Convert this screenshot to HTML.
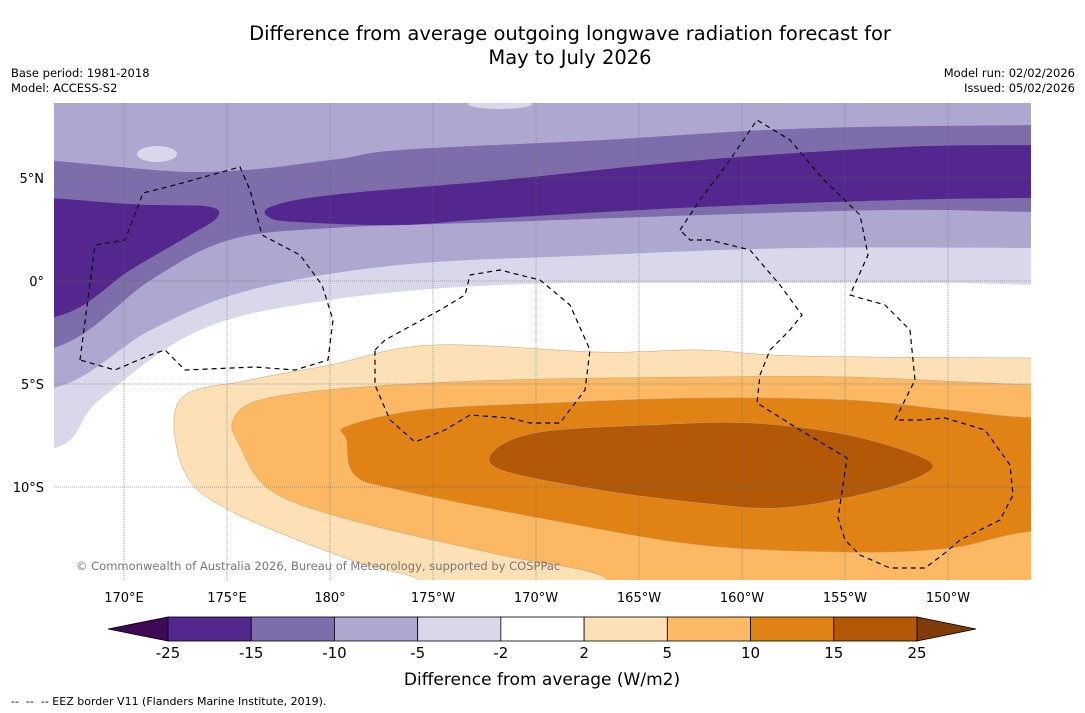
<!DOCTYPE html>
<html><head><meta charset="utf-8"><style>
body{margin:0;background:#fff;font-family:"Liberation Sans","DejaVu Sans",sans-serif;}
#wrap{position:relative;width:1085px;height:713px;overflow:hidden;background:#fff}
.t{position:absolute;white-space:nowrap;color:#000}
</style></head><body>
<div id="wrap">
<div class="t" style="left:0;width:1140px;top:22px;text-align:center;font-size:19.5px;line-height:24px;font-family:'DejaVu Sans',sans-serif">Difference from average outgoing longwave radiation forecast for<br>May to July 2026</div>
<div class="t" style="left:11px;top:66px;font-size:11.5px;line-height:15px;font-family:'DejaVu Sans',sans-serif">Base period: 1981-2018<br>Model: ACCESS-S2</div>
<div class="t" style="right:10px;top:66px;font-size:11.5px;line-height:15px;text-align:right;font-family:'DejaVu Sans',sans-serif">Model run: 02/02/2026<br>Issued: 05/02/2026</div>
<svg id="svg" width="1085" height="713" style="position:absolute;left:0;top:0" font-family="DejaVu Sans, sans-serif"></svg>
<div class="t" style="left:11px;top:695px;font-size:11px;font-family:'DejaVu Sans',sans-serif">-- &nbsp;-- &nbsp;-- EEZ border V11 (Flanders Marine Institute, 2019).</div>
</div>
<script>
const levels=[-25,-15,-10,-5,-2,2,5,10,15,25];
const colors=['#54278f','#7d6dab','#aea8d0','#d9d8ea','#ffffff','#fee0b6','#fdb863','#e08214','#b35806'];
const lonTicks=[170,175,180,185,190,195,200,205,210];
const lonLabels=['170°E','175°E','180°','175°W','170°W','165°W','160°W','155°W','150°W'];
const latTicks=[5,0,-5,-10];
const latLabels=['5°N','0°','5°S','10°S'];
// contour regions [lon(°E 0-360), lat] ; level = anomaly class index
const regMinus5=[[160,9.5],[222,9.5],[222,-0.19],[214.5,-0.19],[210,-0.1],[198,-0.1],[188.3,-0.19],[180,-0.92],[173.7,-2.38],[168.8,-5.78],[166.6,-8.11],[160,-8.11]];
const regMinus10=[[160,9.5],[222,9.5],[222,1.6],[214.5,1.6],[202.8,1.6],[193.1,1.26],[183.4,0.78],[176.1,-0.44],[171.3,-2.38],[166.6,-5.19],[160,-5.19]];
const regMinus15=[[160,5.39],[173.7,5.29],[180,5.87],[183.4,6.36],[193.1,6.84],[202.8,7.4],[214.5,7.57],[222,7.57],[222,3.35],[214.5,3.35],[207.7,3.45],[198,3.2],[188.3,2.86],[180,2.57],[175.1,1.99],[171.3,0.05],[166.6,-3.25],[160,-3.25]];
const regMinus25a=[[160,3.79],[171.3,3.69],[174.2,3.59],[174.5,3.06],[173.2,2.23],[170.3,0.53],[166.6,-1.75],[160,-1.75]];
const regMinus25b=[[177.1,3.59],[180,4.17],[188.3,4.9],[198,5.87],[207.7,6.5],[214.5,6.6],[222,6.6],[222,4.03],[214.5,4.03],[207.7,3.93],[198,3.59],[188.3,3.06],[183.4,2.72],[178.5,2.86],[177.1,3.06]];
const regPlus2=[[172.7,-5.78],[176.1,-4.81],[180,-4.08],[184.9,-3.11],[193.1,-3.45],[198,-3.35],[202.8,-3.64],[214.5,-3.74],[222,-3.74],[222,-16],[186,-16],[184.4,-14.51],[181,-13.54],[175.1,-11.12],[172.9,-9.17]];
const regPlus5=[[175.3,-6.75],[176.6,-5.78],[181,-5.19],[188.3,-4.81],[198,-4.66],[205.2,-4.66],[214.5,-5.05],[222,-5.05],[222,-16],[196,-16],[193.1,-14.27],[188.3,-13.3],[181,-11.6],[177.1,-10.15],[175.6,-7.96]];
const regPlus10=[[180.8,-7.06],[184.4,-6.26],[190.7,-5.92],[198,-5.68],[205.2,-5.78],[210.1,-6.26],[214.5,-6.65],[222,-6.65],[222,-12.0],[214.5,-12.1],[210.1,-12.96],[205.2,-13.16],[198,-12.82],[190.7,-11.6],[183.4,-10.15],[181.2,-9.42],[180.8,-7.72]];
const regPlus15=[[188,-8.2],[190.2,-7.33],[195.5,-6.99],[200.4,-6.89],[205.2,-7.48],[209,-8.69],[208.6,-9.51],[205.7,-10.39],[201.8,-11.02],[198,-10.78],[193.1,-10.15],[188.3,-9.17]];
const regions=[[regMinus5,3],[regMinus10,2],[regMinus15,1],[regMinus25a,0],[regMinus25b,0],[regPlus2,5],[regPlus5,6],[regPlus10,7],[regPlus15,8]];

const X0=54,X1=1031,Y0=103,Y1=580;
const xScale=lon=>124+(lon-170)*20.6;
const yScale=lat=>281-lat*20.6;
const NS='http://www.w3.org/2000/svg';
const svg=document.getElementById('svg');
function mk(tag,attrs,parent){const e=document.createElementNS(NS,tag);for(const k in attrs)e.setAttribute(k,attrs[k]);(parent||svg).appendChild(e);return e;}
function smooth(pts){
  const n=pts.length;let d=`M${pts[0][0]},${pts[0][1]}`;
  for(let i=0;i<n;i++){const p0=pts[(i-1+n)%n],p1=pts[i],p2=pts[(i+1)%n],p3=pts[(i+2)%n];
    const c1=[p1[0]+(p2[0]-p0[0])/6,p1[1]+(p2[1]-p0[1])/6],c2=[p2[0]-(p3[0]-p1[0])/6,p2[1]-(p3[1]-p1[1])/6];
    d+=`C${c1[0].toFixed(1)},${c1[1].toFixed(1)} ${c2[0].toFixed(1)},${c2[1].toFixed(1)} ${p2[0].toFixed(1)},${p2[1].toFixed(1)}`;}
  return d+'Z';}
const defs=mk('defs',{});
const cp=mk('clipPath',{id:'mapclip'},defs);mk('rect',{x:X0,y:Y0,width:X1-X0,height:Y1-Y0},cp);
const g=mk('g',{'clip-path':'url(#mapclip)'});


mk('rect',{x:X0,y:Y0,width:X1-X0,height:Y1-Y0,fill:'#ffffff'},g);
regions.forEach(([pts,ci],i)=>{
  const px=pts.map(p=>[xScale(p[0]),yScale(p[1])]);
  const p=mk('path',{d:smooth(px),fill:colors[ci],stroke:ci>=5?'#c8a070':'none','stroke-width':0.5},g);
  
  
});
mk('ellipse',{cx:157,cy:154,rx:20,ry:8,fill:'#d9d8ea'},g);
mk('ellipse',{cx:500,cy:104,rx:32,ry:5,fill:'#d9d8ea'},g);
lonTicks.forEach(l=>{const x=xScale(l);const ln=mk('line',{x1:x,x2:x,y1:Y0,y2:Y1,stroke:'#666','stroke-width':0.5,'stroke-dasharray':'1,1'},g);
  });
latTicks.forEach(l=>{const y=yScale(l);const ln=mk('line',{x1:X0,x2:X1,y1:y,y2:y,stroke:'#666','stroke-width':0.5,'stroke-dasharray':'1,1'},g);
  });
const eez=['M80,360 L95,245 L125,240 L143,193 L175,185 L240,167 L250,190 L262,235 L300,255 L322,285 L333,320 L328,360 L295,370 L255,367 L185,370 L165,350 L150,355 L115,370 Z',
'M375,350 L385,340 L440,310 L465,295 L470,275 L500,270 L540,280 L570,305 L590,350 L585,390 L560,423 L530,423 L510,418 L470,415 L445,430 L415,442 L390,420 L375,385 Z',
'M680,230 L700,200 L730,160 L757,120 L790,140 L822,178 L860,215 L868,255 L850,295 L885,305 L910,330 L915,380 L895,420 L920,420 L945,418 L985,430 L1010,465 L1013,495 L1000,520 L960,540 L945,553 L925,568 L890,568 L860,555 L845,540 L838,518 L847,458 L800,430 L757,403 L760,375 L770,350 L790,330 L802,315 L780,285 L750,250 L710,240 L690,240 Z'];
eez.forEach((d,i)=>{const p=mk('path',{d,fill:'none',stroke:'#000','stroke-width':1.2,'stroke-dasharray':'5,4'},g);
  });
const ct=mk('text',{x:76,y:570,'font-size':11.5,fill:'#777'},g);ct.textContent='© Commonwealth of Australia 2026, Bureau of Meteorology, supported by COSPPac';

lonTicks.forEach((l,i)=>{const t=mk('text',{x:xScale(l),y:602,'font-size':13,'text-anchor':'middle'});t.textContent=lonLabels[i];
  });
latTicks.forEach((l,i)=>{const t=mk('text',{x:44,y:yScale(l)+5,'font-size':13,'text-anchor':'end'});t.textContent=latLabels[i];
  });
const cbX0=168,cbX1=917,cbY=617,cbH=24,n=colors.length,w=(cbX1-cbX0)/n;
const lt=mk('polygon',{points:`${cbX0},${cbY} ${cbX0},${cbY+cbH} 108,${cbY+cbH/2}`,fill:'#3f0a55',stroke:'#000','stroke-width':0.8});

const rt=mk('polygon',{points:`${cbX1},${cbY} ${cbX1},${cbY+cbH} 976,${cbY+cbH/2}`,fill:'#7f3b08',stroke:'#000','stroke-width':0.8});

colors.forEach((c,i)=>{const r=mk('rect',{x:cbX0+i*w,y:cbY,width:w,height:cbH,fill:c,stroke:'#000','stroke-width':0.8});
  });
levels.forEach((v,i)=>{const t=mk('text',{x:cbX0+i*w,y:658,'font-size':15,'text-anchor':'middle'});t.textContent=v;
  });
const cl=mk('text',{x:542,y:685,'font-size':17,'text-anchor':'middle'});cl.textContent='Difference from average (W/m2)';

</script>
</body></html>
